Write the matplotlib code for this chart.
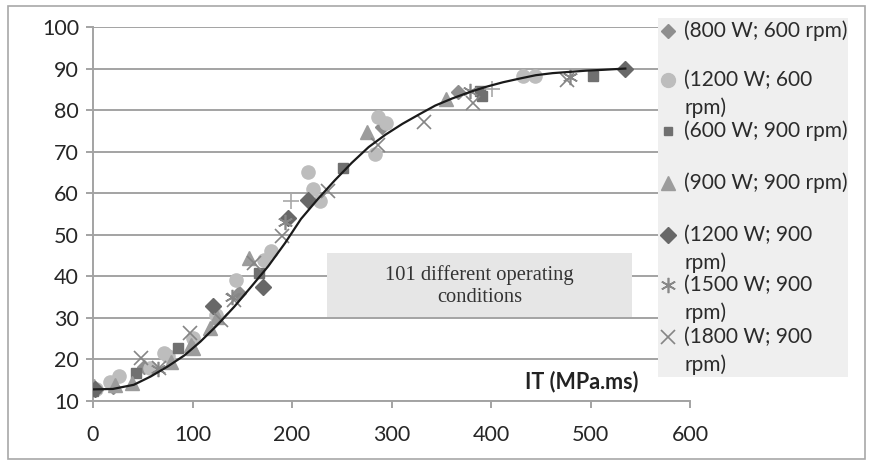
import matplotlib
matplotlib.use("Agg")
import matplotlib.pyplot as plt
from matplotlib.patches import Rectangle
from matplotlib.lines import Line2D

plt.rcParams['font.family'] = ['Lato', 'DejaVu Sans']

# ---------------- data ----------------
labels = ["(800 W; 600 rpm)", "(1200 W; 600\nrpm)", "(600 W; 900 rpm)",
          "(900 W; 900 rpm)", "(1200 W; 900\nrpm)", "(1500 W; 900\nrpm)",
          "(1800 W; 900\nrpm)"]

a_x = [0, 20, 51, 147, 290, 367]
a_y = [13, 13.4, 18.3, 36, 76, 84.3]

b_x = [3, 17, 26, 57, 71, 75, 100, 124, 144, 172, 179, 216, 221, 228, 283, 286, 294, 432, 444]
b_y = [13, 14.6, 15.9, 17.9, 21.5, 20.8, 25.1, 30.7, 39.2, 44, 46, 65.1, 61, 58.2, 69.5, 78.3, 76.9, 88.1, 88.1]

c_x = [0, 43, 85, 167, 251, 389, 391, 503]
c_y = [12.5, 16.7, 22.7, 40.9, 66, 84.7, 83.3, 88.1]

d_x = [1, 22, 39, 78, 98, 100, 118, 125, 157, 275, 355]
d_y = [13.5, 13.8, 14.3, 19.5, 23.5, 22.7, 27.5, 30.2, 44.4, 74.7, 82.7]

e_x = [2, 121, 171, 196, 216, 535]
e_y = [13, 32.9, 37.4, 54, 58.4, 90]

f_x = [65, 140, 193, 379, 479]
f_y = [17.8, 35, 53, 84.7, 88]

g_x = [48, 66, 97, 129, 142, 162, 190, 236, 286, 333, 382, 476]
g_y = [20.3, 17.9, 26.3, 29.4, 34.3, 43.2, 49.6, 60.6, 71.5, 77.1, 81.7, 87.3]

h_x = [199, 401]
h_y = [58.2, 85.2]

curve_x = [0, 20, 41, 58, 75, 92, 108, 125, 142, 159, 176, 193, 209, 226, 243, 260,
           277, 294, 311, 328, 344, 361, 378, 395, 412, 429, 445, 462, 479, 496, 513, 535]
curve_y = [12.8, 12.9, 13.9, 15.9, 18.3, 21.0, 24.3, 28.3, 32.7, 37.5, 42.4, 48.0,
           53.8, 58.6, 63.1, 67.3, 71.1, 74.1, 76.7, 79.0, 81.1, 82.8, 84.3, 85.6,
           86.7, 87.6, 88.4, 88.9, 89.2, 89.5, 89.7, 90.0]

x_ticks = [0, 100, 200, 300, 400, 500, 600]
y_ticks = [10, 20, 30, 40, 50, 60, 70, 80, 90, 100]

# ---------------- styles ----------------
W, H = 869, 462
fig = plt.figure(figsize=(W / 100, H / 100), dpi=100)
ax = fig.add_axes([93 / W, 1 - 401 / H, (690 - 93) / W, (401 - 27) / H])

grid_c = '#a3a3a3'
series = [
    (a_x, a_y, dict(marker='D', ms=7.5, color='#8e8e8e', mec='#8e8e8e')),
    (b_x, b_y, dict(marker='o', ms=9.5, color='#bdbdbd', mec='#bdbdbd')),
    (c_x, c_y, dict(marker='s', ms=6.5, color='#707070', mec='#707070')),
    (d_x, d_y, dict(marker='^', ms=10, color='#9c9c9c', mec='#9c9c9c')),
    (e_x, e_y, dict(marker='D', ms=8, color='#686868', mec='#686868')),
    (f_x, f_y, dict(marker=(6, 2, 0), ms=11, color='#888888', mec='#888888', mew=1.2)),
    (g_x, g_y, dict(marker='x', ms=10, color='#858585', mec='#858585', mew=1.2)),
]
for xs, ys, st in series:
    ax.plot(xs, ys, ls='none', zorder=3, **st)
ax.plot(h_x, h_y, ls='none', marker='+', ms=11, mew=1.2, color='#a8a8a8', zorder=3)

ax.plot(curve_x, curve_y, color='#1a1a1a', lw=1.6, zorder=4)

ax.set_xlim(0, 600)
ax.set_ylim(10, 100)
ax.set_xticks(x_ticks)
ax.set_yticks(y_ticks)
ax.grid(axis='y', color=grid_c, lw=1.4, zorder=0)
ax.set_axisbelow(True)
for s in ['top', 'right']:
    ax.spines[s].set_visible(False)
for s in ['left', 'bottom']:
    ax.spines[s].set_color(grid_c)
    ax.spines[s].set_linewidth(1.4)
ax.tick_params(axis='both', colors=grid_c, length=5, width=1.4, labelsize=15.5,
               labelcolor='#262626')
ax.tick_params(axis='x', pad=12)
ax.tick_params(axis='y', pad=5)

ax.text(548, 14.7, 'IT (MPa.ms)', ha='right', va='center', fontsize=15.5,
        fontweight='bold', color='#222222', zorder=5)

# annotation box
ax.add_patch(Rectangle((235, 30.2), 307, 15.3, facecolor='#e6e6e6', edgecolor='none', zorder=2))
ax.text(388.5, 37.6, '101 different operating\nconditions', ha='center', va='center',
        family=['Liberation Serif', 'DejaVu Serif'], fontsize=14.8, color='#333333',
        linespacing=1.2, zorder=5)

# manual legend
def fx(px): return px / W
def fy(py): return 1 - py / H

fig.add_artist(Rectangle((fx(658), fy(377)), fx(848) - fx(658), fy(18) - fy(377),
                         transform=fig.transFigure, facecolor='#efefef',
                         edgecolor='none', zorder=5))
leg_y = [31, 80, 131, 183, 235, 285, 337]
leg_ms = [7.5, 10, 6, 10, 8, 11, 10]
for (xs, ys, st), lab, py, lms in zip(series, labels, leg_y, leg_ms):
    st2 = dict(st)
    st2['ms'] = lms
    fig.add_artist(Line2D([fx(668)], [fy(py)], transform=fig.transFigure, ls='none',
                          zorder=6, **st2))
    for i, line in enumerate(lab.split('\n')):
        fig.text(fx(684), fy(py + i * 28), line, ha='left', va='center',
                 fontsize=15, color='#2b2b2b', zorder=6)

# outer chart border
fig.add_artist(Rectangle((fx(8), fy(459)), fx(865) - fx(8), fy(6) - fy(459),
                         transform=fig.transFigure, facecolor='none',
                         edgecolor='#a8a8a8', lw=1.2, zorder=0))

fig.savefig('out.png', dpi=100)
